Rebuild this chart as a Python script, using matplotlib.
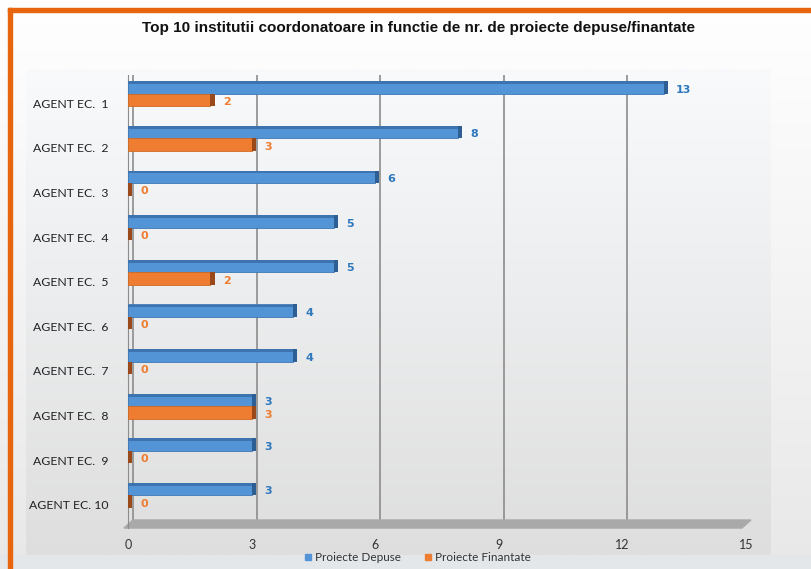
import numpy as np
import matplotlib
matplotlib.use('Agg')
import matplotlib.pyplot as plt
from matplotlib.patches import Rectangle, Polygon

categories = ['AGENT EC.  1', 'AGENT EC.  2', 'AGENT EC.  3', 'AGENT EC.  4', 'AGENT EC.  5',
              'AGENT EC.  6', 'AGENT EC.  7', 'AGENT EC.  8', 'AGENT EC.  9', 'AGENT EC. 10']
depuse = [13, 8, 6, 5, 5, 4, 4, 3, 3, 3]
finantate = [2, 3, 0, 0, 2, 0, 0, 3, 0, 0]
xticks = [0, 3, 6, 9, 12, 15]
title = 'Top 10 institutii coordonatoare in functie de nr. de proiecte depuse/finantate'
legend_labels = ['Proiecte Depuse', 'Proiecte Finantate']

W, H = 811, 569
fig = plt.figure(figsize=(W / 100, H / 100), dpi=100)

# background layer in pixel coords
bg = fig.add_axes([0, 0, 1, 1])
bg.set_xlim(0, W)
bg.set_ylim(H, 0)
bg.axis('off')
grad = np.linspace(0, 1, 256)[:, None]
bg.imshow(grad, cmap=matplotlib.colors.LinearSegmentedColormap.from_list('g', ['#ffffff', '#e8e8e8']),
          extent=[0, W, H, 0], aspect='auto', zorder=0)
bg.imshow(grad, cmap=matplotlib.colors.LinearSegmentedColormap.from_list('p', ['#f8fafc', '#dedede']),
          extent=[26, 771, 555, 69], aspect='auto', zorder=1)
bg.add_patch(Rectangle((0, 555), W, H - 555, color='#e3e7ea', zorder=1))
bg.add_patch(Rectangle((8, 8), W, 3.5, color='#e8650e', zorder=2))
bg.add_patch(Rectangle((8, 8), 3.5, H, color='#e8650e', zorder=2))
bg.text(418, 28, title, ha='center', va='center', fontsize=11, fontweight='bold',
        family='Liberation Sans', color='#111111', zorder=3)

# main chart
ax = fig.add_axes([128 / W, 1 - 520 / H, (746 - 128) / W, (520 - 75) / H])
ax.set_facecolor('none')
ax.set_xlim(0, 15)
ax.set_ylim(9.34, -0.63)
y = np.arange(len(categories))

blue, blue_top, blue_cap, blue_txt = '#5294d6', '#3d74b0', '#2d5f94', '#2e78bd'
orng, orng_top, orng_cap, orng_txt = '#ee7d31', '#d2691f', '#9a4a1a', '#ee7d31'
h = 0.28
yb = y - 0.35
yo = y - 0.07

ax.vlines(np.array(xticks) + 0.12, -0.63, 9.34, color='#8c8c8c', lw=1.2, zorder=1)
ax.barh(yb, depuse, height=h, color=blue, edgecolor='#3f78b4', lw=0.6, zorder=3)
ax.barh(yb - h * 0.38, depuse, height=h * 0.22, color=blue_top, zorder=3)
ax.barh(yb, 0.1, left=depuse, height=h, color=blue_cap, zorder=3)
ax.barh(yo, finantate, height=h, color=orng, edgecolor='#d06a25', lw=0.6, zorder=3)
ax.barh(yo, 0.1, left=finantate, height=h, color=orng_cap, zorder=3)

for yy, v in zip(yb, depuse):
    ax.text(v + 0.3, yy + 0.05, str(v), va='center', ha='left', fontsize=8,
            fontweight='bold', color=blue_txt, zorder=4)
for yy, v in zip(yo, finantate):
    ax.text(v + 0.3, yy + 0.05, str(v), va='center', ha='left', fontsize=8,
            fontweight='bold', color=orng_txt, zorder=4)

# floor
ax.add_patch(Polygon([(0.12, 9.34), (15.12, 9.34), (14.9, 9.52), (-0.1, 9.52)],
                     closed=True, color='#a9a9a9', clip_on=False, zorder=2))

for s in ['top', 'right', 'bottom']:
    ax.spines[s].set_visible(False)
ax.spines['left'].set_color('#8c8c8c')
ax.spines['left'].set_bounds(-0.63, 9.52)

ax.set_yticks(y)
ax.set_yticklabels(categories, fontsize=8.8, family='Lato', color='#222222')
ax.tick_params(axis='y', length=0, pad=14)
ax.set_xticks(xticks)
ax.set_xticklabels([str(t) for t in xticks], fontsize=9, family='Lato', color='#333333')
ax.tick_params(axis='x', length=0, pad=14)

# legend
for lab, c, x0 in zip(legend_labels, [blue, orng], [305, 425]):
    bg.add_patch(Rectangle((x0, 554), 6, 6, color=c, zorder=3))
    bg.text(x0 + 10, 557.5, lab, va='center', ha='left', fontsize=8.5, family='Lato',
            color='#333333', zorder=3)

fig.savefig('out.png', dpi=100)
